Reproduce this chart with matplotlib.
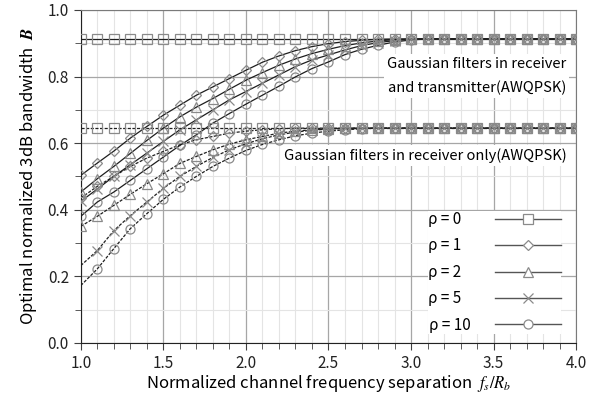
import matplotlib
matplotlib.use('Agg')
import matplotlib.pyplot as plt
from matplotlib.lines import Line2D
from matplotlib.ticker import MultipleLocator, FormatStrFormatter

plt.rcParams['font.family'] = ['Noto Sans CJK KR', 'DejaVu Sans']
plt.rcParams['mathtext.fontset'] = 'stix'

# x 축: 정규화 채널 간격 fs/Rb (1.0 ~ 4.0, 0.1 간격)
fs_rb = [1.0, 1.1, 1.2, 1.3, 1.4, 1.5, 1.6, 1.7, 1.8, 1.9, 2.0,
         2.1, 2.2, 2.3, 2.4, 2.5, 2.6, 2.7, 2.8, 2.9, 3.0,
         3.1, 3.2, 3.3, 3.4, 3.5, 3.6, 3.7, 3.8, 3.9, 4.0]

# figure space (U+2007) so labels line up on the left
rho_labels = ['ρ = 0\u2007', 'ρ = 1\u2007', 'ρ = 2\u2007', 'ρ = 5\u2007', 'ρ = 10']
markers = ['s', 'D', '^', 'x', 'o']

# receiver + transmitter (solid)
tx_rho0 = [0.913] * 31
tx_rho1 = [0.503, 0.540, 0.576, 0.615, 0.650, 0.684, 0.714, 0.744, 0.769, 0.794,
           0.819, 0.843, 0.862, 0.878, 0.890, 0.899, 0.905, 0.909, 0.912, 0.913] + [0.913] * 11
tx_rho2 = [0.453, 0.493, 0.530, 0.569, 0.608, 0.645, 0.679, 0.708, 0.734, 0.762,
           0.789, 0.812, 0.834, 0.853, 0.869, 0.882, 0.893, 0.901, 0.907, 0.911] + [0.913] * 11
tx_rho5 = [0.425, 0.462, 0.500, 0.535, 0.570, 0.605, 0.640, 0.670, 0.700, 0.730,
           0.755, 0.780, 0.805, 0.830, 0.850, 0.865, 0.880, 0.893, 0.902, 0.908] + [0.913] * 11
tx_rho10 = [0.380, 0.423, 0.453, 0.488, 0.523, 0.558, 0.593, 0.625, 0.660, 0.689,
            0.717, 0.744, 0.771, 0.799, 0.824, 0.844, 0.866, 0.882, 0.894, 0.904] + [0.910] + [0.913] * 10

# receiver only (dashed)
rx_rho0 = [0.645] * 31
rx_rho1 = [0.435, 0.470, 0.500, 0.530, 0.555, 0.575, 0.595, 0.610, 0.620, 0.630,
           0.636, 0.640, 0.643] + [0.645] * 18
rx_rho2 = [0.350, 0.380, 0.413, 0.446, 0.478, 0.508, 0.539, 0.560, 0.580, 0.597,
           0.610, 0.620, 0.630, 0.636, 0.640, 0.643] + [0.645] * 15
rx_rho5 = [0.232, 0.277, 0.337, 0.382, 0.423, 0.464, 0.500, 0.530, 0.557, 0.580,
           0.598, 0.613, 0.625, 0.633, 0.639, 0.642, 0.644] + [0.645] * 14
rx_rho10 = [0.172, 0.222, 0.283, 0.343, 0.388, 0.431, 0.468, 0.500, 0.530, 0.555,
            0.578, 0.596, 0.610, 0.622, 0.630, 0.636, 0.640, 0.643] + [0.645] * 13

tx_series = [tx_rho0, tx_rho1, tx_rho2, tx_rho5, tx_rho10]
rx_series = [rx_rho0, rx_rho1, rx_rho2, rx_rho5, rx_rho10]

fig = plt.figure(figsize=(5.94, 4.0), dpi=100)
ax = fig.add_axes([0.136, 0.143, 0.834, 0.832])

line_c = '#1e1e1e'
mark_c = '#8a8a8a'


def msize(m):
    return 5 if m == 'D' else 6.5


for ys, m in zip(tx_series, markers):
    ax.plot(fs_rb, ys, color=line_c, lw=0.9, zorder=3)
    ax.plot(fs_rb, ys, ls='none', marker=m, ms=msize(m),
            mfc='none', mec=mark_c, mew=0.9, zorder=4)

for i, (ys, m) in enumerate(zip(rx_series, markers)):
    ax.plot(fs_rb, ys, color=line_c, lw=0.9, ls=(0, (2.5, 1.2)), zorder=3)
    start = 1 if i >= 3 else 0  # no marker at 1.0 for rho=5,10
    ax.plot(fs_rb[start:], ys[start:], ls='none', marker=m, ms=msize(m),
            mfc='none', mec=mark_c, mew=0.9, zorder=4)

ax.set_xlim(1.0, 4.0)
ax.set_ylim(0.0, 1.0)
ax.xaxis.set_major_locator(MultipleLocator(0.5))
ax.xaxis.set_minor_locator(MultipleLocator(0.1))
ax.yaxis.set_major_locator(MultipleLocator(0.2))
ax.yaxis.set_minor_locator(MultipleLocator(0.1))
ax.xaxis.set_major_formatter(FormatStrFormatter('%.1f'))
ax.yaxis.set_major_formatter(FormatStrFormatter('%.1f'))

ax.set_axisbelow(True)
ax.grid(which='major', color='#a6a6a6', lw=0.9)
ax.grid(which='minor', color='#e4e4e4', lw=0.8)
ax.tick_params(which='both', direction='out', colors='#404040', labelcolor='#222222', labelsize=11)
ax.tick_params(which='major', length=5)
ax.tick_params(which='minor', length=4)
for s in ['left', 'bottom']:
    ax.spines[s].set_color('#222222')
for s in ['top', 'right']:
    ax.spines[s].set_color('#7a7a7a')

ax.set_xlabel('Normalized channel frequency separation  $f_s/R_b$', fontsize=12, labelpad=1)
ax.set_ylabel('Optimal normalized 3dB bandwidth  $\\boldsymbol{B}$', fontsize=12, labelpad=6)

box = dict(facecolor='white', edgecolor='none', pad=2)
ax.text(3.94, 0.802, 'Gaussian filters in receiver\nand transmitter(AWQPSK)', ha='right',
        va='center', fontsize=10.6, linespacing=1.8, bbox=box, zorder=2.5)
ax.text(3.94, 0.563, 'Gaussian filters in receiver only(AWQPSK)', ha='right',
        va='center', fontsize=10.6, bbox=box, zorder=2.5)

handles = [Line2D([0], [0], color='#555555', lw=1.0, marker=m, ms=msize(m),
                  mfc='white', mec=mark_c, mew=0.9) for m in markers]
leg = ax.legend(handles, rho_labels, loc='lower right', bbox_to_anchor=(0.985, 0.004),
                markerfirst=False, handlelength=4.3, handletextpad=1.6, labelspacing=0.62,
                fontsize=11, frameon=True, fancybox=False, framealpha=1, borderpad=0.0)
leg.get_frame().set_edgecolor('none')
leg.set_zorder(5)

fig.savefig('out.png', dpi=100)
